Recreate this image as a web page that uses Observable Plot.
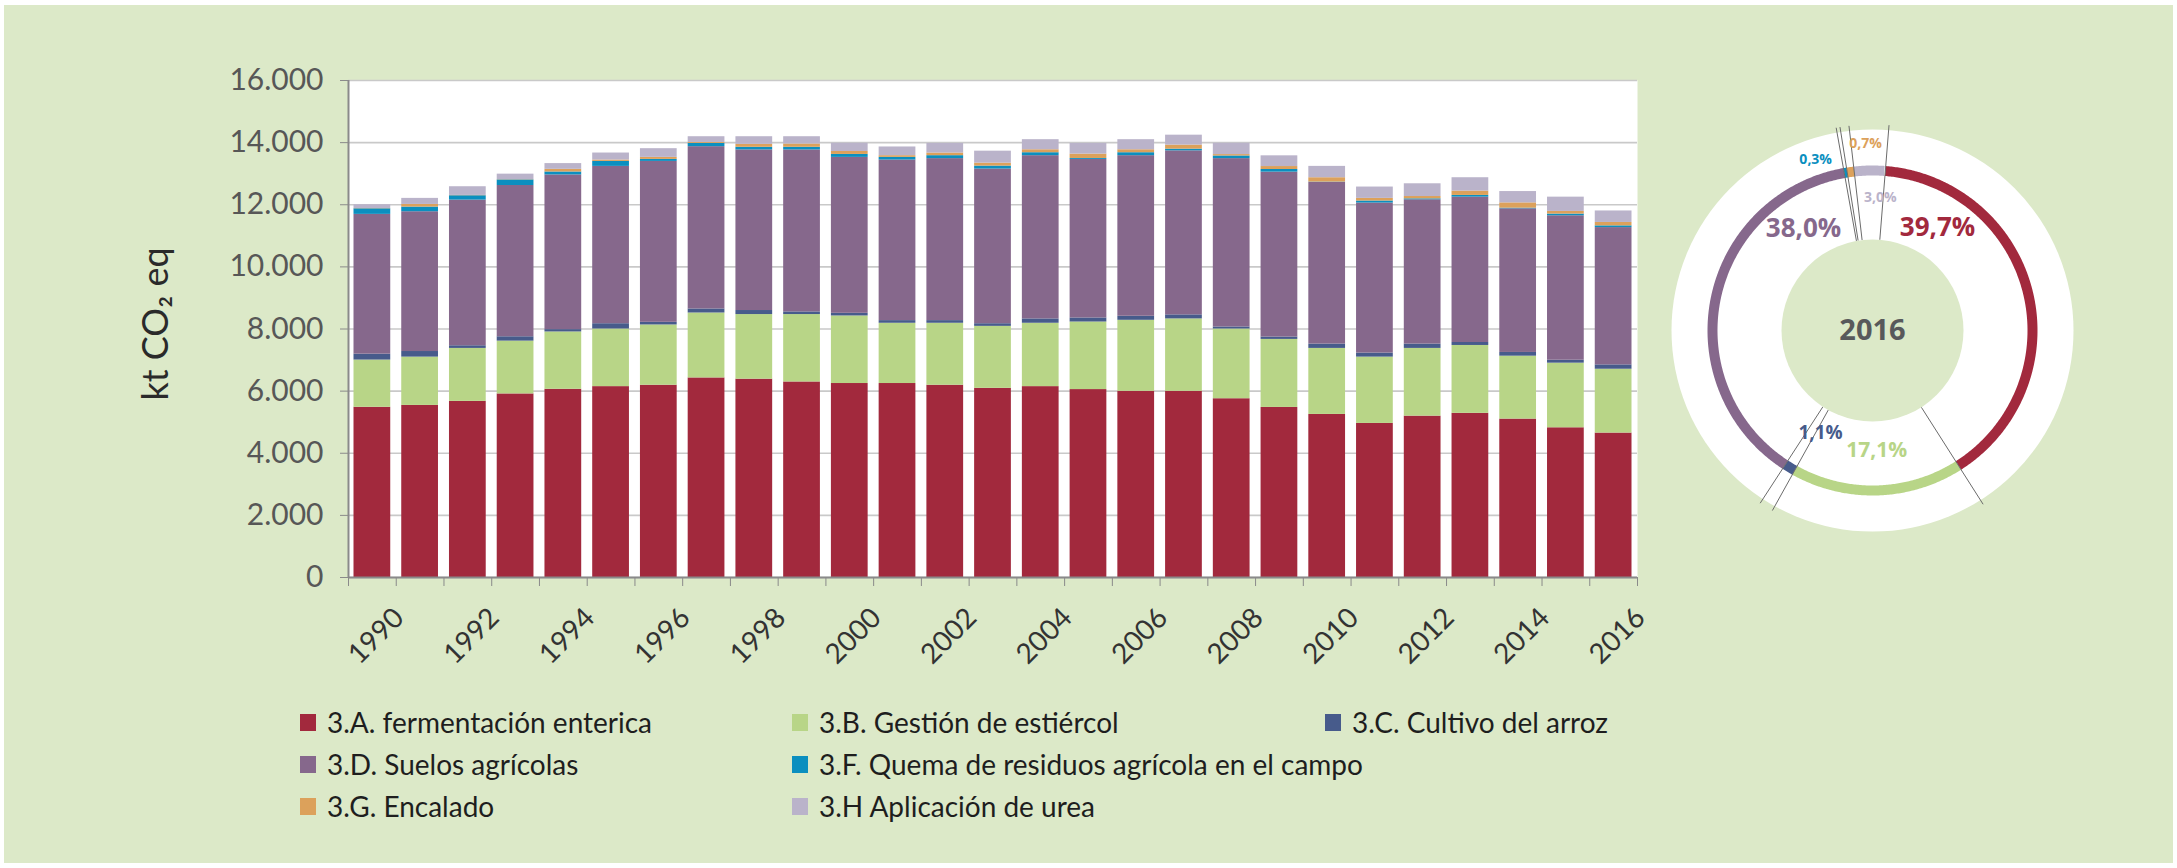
<!DOCTYPE html>
<html><head><meta charset="utf-8">
<script src="https://cdn.jsdelivr.net/npm/d3@7"></script>
<script src="https://cdn.jsdelivr.net/npm/@observablehq/plot@0.6"></script>
<style>
html,body{margin:0;padding:0;background:#fff;}
body{width:2177px;height:868px;overflow:hidden;position:relative;font-family:Lato,"Open Sans",sans-serif;}
#panel{position:absolute;left:4px;top:5px;width:2169px;height:858px;background:#dce9c8;}
#bars{position:absolute;left:0;top:0;}
#donut{position:absolute;left:1652px;top:110px;}
.leg{position:absolute;display:flex;align-items:center;font-size:28px;color:#1e1e1e;white-space:nowrap;height:34px;}
.sw{width:16px;height:17px;margin-right:11px;flex:none;}
</style></head><body>
<div id="panel"></div>
<div id="bars"></div>
<div id="donut"></div>
<div id="legend"></div>
<script>
// ---------- data ----------
const years = [1990,1991,1992,1993,1994,1995,1996,1997,1998,1999,2000,2001,2002,2003,2004,2005,2006,2007,2008,2009,2010,2011,2012,2013,2014,2015,2016];
const yearLabels = [1990,1992,1994,1996,1998,2000,2002,2004,2006,2008,2010,2012,2014,2016];
const yTicks = [0,2000,4000,6000,8000,10000,12000,14000,16000];
const categories = [
  "3.A. fermentación enterica",
  "3.B. Gestión de estiércol",
  "3.C. Cultivo del arroz",
  "3.D. Suelos agrícolas",
  "3.F. Quema de residuos agrícola en el campo",
  "3.G. Encalado",
  "3.H Aplicación de urea"
];
const colors = ["#a2293d","#b8d587","#475b8b","#86688c","#0b8fbf","#dca15b","#bab3ca"];

const fermentacion = [5480,5540,5670,5910,6060,6145,6190,6425,6385,6295,6245,6245,6190,6090,6145,6050,5995,5995,5755,5475,5250,4960,5195,5285,5100,4820,4650];
const estiercol    = [1520,1555,1705,1700,1845,1855,1940,2090,2080,2170,2175,1940,1995,1995,2040,2175,2285,2330,2245,2190,2125,2135,2180,2185,2025,2080,2055];
const arroz        = [190,180,85,140,75,170,85,130,130,85,85,85,85,85,140,130,130,130,65,75,140,130,140,95,120,95,140];
const suelos       = [4500,4500,4690,4870,4980,5065,5180,5225,5170,5215,5020,5170,5215,4980,5255,5105,5170,5280,5420,5310,5205,4830,4645,4680,4625,4650,4420];
const quema        = [180,150,140,180,95,160,65,105,85,85,95,85,95,95,95,30,95,55,85,85,10,65,30,55,20,55,55];
const encalado     = [10,85,10,10,85,45,65,30,95,105,95,55,85,95,95,140,95,130,45,95,140,85,75,140,170,85,110];
const urea         = [120,195,280,175,185,225,280,185,245,235,265,280,310,385,325,345,325,320,365,345,365,365,410,430,365,460,370];

const donutYear = "2016";
const share2016 = [39.7,17.1,1.1,38.0,0.3,0.7,3.0];
const shareLabels = ["39,7%","17,1%","1,1%","38,0%","0,3%","0,7%","3,0%"];

// ---------- layout (not data) ----------
const donutStartDeg = 4.6;
const labelPolar = [[32.2,122,26],[178,120,21],[207,114.5,19],[-34.1,123,26],[-18.4,180,14],[-2.1,187,14],[3.4,133,14]];
const legendPos = [[300,722],[792,722],[1325,722],[300,764],[792,764],[300,806],[792,806]];

// ---------- table ----------
const series = [fermentacion, estiercol, arroz, suelos, quema, encalado, urea];
const rows = years.flatMap((year, i) => series.map((vals, k) => ({year, cat: categories[k], value: vals[i]})));
const boundaries = years.map(y => y - 0.5).concat([years[years.length - 1] + 0.5]);

const loc = d3.formatLocale({decimal: ",", thousands: ".", grouping: [3], currency: ["", "€"]});
const fmt = loc.format(",");

const bars = Plot.plot({
  width: 1647, height: 680,
  marginLeft: 348, marginTop: 80, marginRight: 10, marginBottom: 103,
  style: {background: "transparent", fontFamily: "Lato, sans-serif", overflow: "visible"},
  x: {domain: [boundaries[0], boundaries[boundaries.length - 1]], axis: null, label: null},
  y: {domain: [0, 16000], axis: null, label: null},
  color: {domain: categories, range: colors},
  marks: [
    Plot.frame({fill: "white", stroke: "none"}),
    Plot.gridY(yTicks, {stroke: "#c9c9c9", strokeOpacity: 1, strokeWidth: 1.6}),
    Plot.rectY(rows, {x1: d => d.year - 0.5, x2: d => d.year + 0.5, y: "value", fill: "cat", insetLeft: 5.5, insetRight: 5.5}),
    Plot.ruleY([0], {stroke: "#8a8a8a", strokeWidth: 2}),
    Plot.ruleX([boundaries[0]], {stroke: "#8a8a8a", strokeWidth: 2}),
    Plot.axisY(yTicks, {label: null, tickSize: 8, tickPadding: 17, tickFormat: fmt, stroke: "#8a8a8a", fill: "#575757", fontSize: 30}),
    Plot.axisX(boundaries, {label: null, tickSize: 9, tickFormat: () => "", stroke: "#8a8a8a"}),
    Plot.text(yearLabels, {x: d => d, text: d => String(d), frameAnchor: "bottom", dx: 33, dy: 42, rotate: -45, textAnchor: "end", lineAnchor: "bottom", fontSize: 28, fill: "#333"}),
    Plot.text(["kt CO₂ eq"], {frameAnchor: "left", rotate: -90, dx: -181, dy: -5, textAnchor: "middle", lineAnchor: "bottom", fontSize: 36, fill: "#2a2a2a"})
  ]
});
document.getElementById("bars").appendChild(bars);

// ---------- donut ----------
const R_RING = 160, R_IN = 91, R_OUT = 201, R_SEP = 206;
const rad = a => a * Math.PI / 180;
const cum = d3.cumsum(share2016);
const startDeg = share2016.map((s, k) => donutStartDeg + (cum[k] - s) * 3.6);
const arcPts = categories.flatMap((cat, k) => {
  const a0 = startDeg[k], a1 = a0 + share2016[k] * 3.6;
  const n = Math.max(2, Math.ceil((a1 - a0) / 0.5) + 1);
  return d3.range(n).map(j => {
    const a = rad(a0 + (a1 - a0) * j / (n - 1));
    return {cat, x: R_RING * Math.sin(a), y: R_RING * Math.cos(a)};
  });
});
const labelRows = categories.map((cat, k) => ({
  cat, text: shareLabels[k],
  x: labelPolar[k][1] * Math.sin(rad(labelPolar[k][0])),
  y: labelPolar[k][1] * Math.cos(rad(labelPolar[k][0])),
  size: labelPolar[k][2]
}));

const donut = Plot.plot({
  width: 440, height: 440, margin: 0,
  style: {background: "transparent", overflow: "visible"},
  x: {domain: [-220, 220], axis: null},
  y: {domain: [-220, 220], axis: null},
  color: {domain: categories, range: colors},
  marks: [
    Plot.dot([{x: 0, y: 0}], {x: "x", y: "y", r: R_OUT, fill: "white", stroke: "none"}),
    Plot.line(arcPts, {x: "x", y: "y", z: "cat", stroke: "cat", strokeWidth: 10, strokeLinecap: "butt", strokeLinejoin: "round"}),
    Plot.link(startDeg, {
      x1: d => R_IN * Math.sin(rad(d)), y1: d => R_IN * Math.cos(rad(d)),
      x2: d => R_SEP * Math.sin(rad(d)), y2: d => R_SEP * Math.cos(rad(d)),
      stroke: "#6b6b6b", strokeWidth: 1
    }),
    Plot.dot([{x: 0, y: 0}], {x: "x", y: "y", r: R_IN, fill: "#dce9c8", stroke: "none"}),
    ...labelRows.map(d => Plot.text([d], {x: "x", y: "y", text: "text", fill: "cat", fontSize: d.size, fontWeight: 700, fontFamily: "'Open Sans', sans-serif"})),
    Plot.text([donutYear], {x: () => 0, y: () => 0, fontSize: 29, fontWeight: 700, fill: "#58595b", fontFamily: "'Open Sans', sans-serif"})
  ]
});
document.getElementById("donut").appendChild(donut);

// ---------- legend ----------
const leg = document.getElementById("legend");
categories.forEach((cat, k) => {
  const d = document.createElement("div");
  d.className = "leg";
  d.style.left = legendPos[k][0] + "px";
  d.style.top = (legendPos[k][1] - 17) + "px";
  const s = document.createElement("span");
  s.className = "sw";
  s.style.background = colors[k];
  d.appendChild(s);
  d.appendChild(document.createTextNode(cat));
  leg.appendChild(d);
});
</script>
</body></html>
